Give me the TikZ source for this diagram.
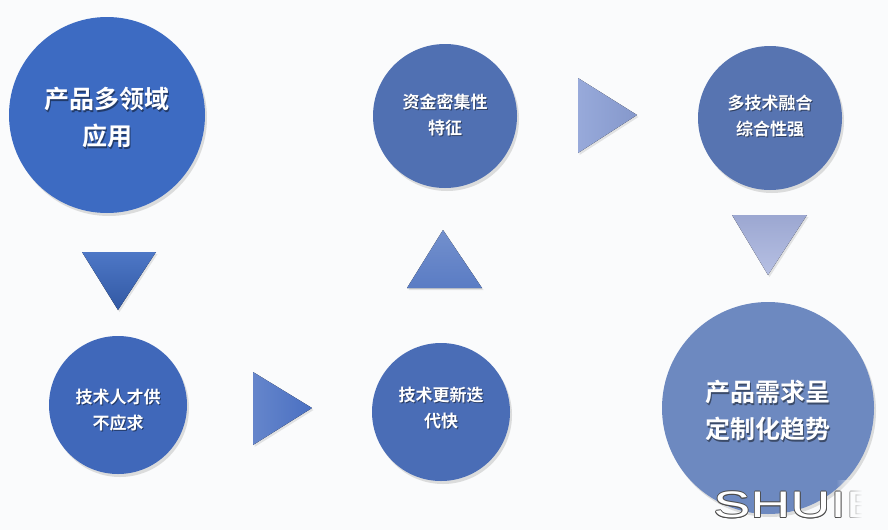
\documentclass[tikz,border=0pt]{standalone}
\usepackage{fontspec}
\newfontfamily\cjk{Noto Sans CJK SC Bold}
\newfontfamily\wmfont{Liberation Sans}
\usetikzlibrary{shadows,fadings}
\definecolor{bgc}{HTML}{FAFBFC}
\definecolor{cA}{HTML}{3D6BC2}
\definecolor{cB}{HTML}{4068BA}
\definecolor{cC}{HTML}{4A6DB6}
\definecolor{cD}{HTML}{5070B2}
\definecolor{cE}{HTML}{5774B1}
\definecolor{cF}{HTML}{6D89C0}
\definecolor{tA}{HTML}{3A68C0}
\definecolor{tB}{HTML}{4A70C2}
\definecolor{tC}{HTML}{5A7CC4}
\definecolor{tD}{HTML}{8CA0D6}
\definecolor{tE}{HTML}{A4B0DC}
\tikzset{
  bubble/.style={circle, inner sep=0pt, draw=none,
    drop shadow={opacity=0.25, shadow xshift=2pt, shadow yshift=-3pt}},
  tri/.style={draw=none, drop shadow={opacity=0.2, shadow xshift=1.5pt, shadow yshift=-2pt}},
  bigtxt/.style={text=white, align=center, font=\cjk\fontsize{25}{37}\selectfont},
  smalltxt/.style={text=white, align=center, font=\cjk\fontsize{17}{26}\selectfont},
  shtxt/.style={text=black, opacity=0.45},
  wm/.style={font=\wmfont\fontsize{37}{37}\selectfont, xscale=1.5, inner sep=0pt}
}
\begin{document}
\begin{tikzpicture}[x=1pt,y=-1pt]
\fill[bgc] (0,0) rectangle (888,530);
\useasboundingbox (0,0) rectangle (888,530);

% circles
\node[bubble, minimum size=196pt, fill=cA] (c1) at (107,115) {};
\node[bubble, minimum size=138pt, fill=cB] (c2) at (118,405) {};
\node[bubble, minimum size=138pt, fill=cC] (c3) at (441,412) {};
\node[bubble, minimum size=144pt, fill=cD] (c4) at (445,116) {};
\node[bubble, minimum size=144pt, fill=cE] (c5) at (770,118) {};
\node[bubble, minimum size=212pt, fill=cF] (c6) at (768,408) {};

% triangles
\fill[tri, top color=tA!90!white, bottom color=tA!85!black] (82,252) -- (156,252) -- (118,310) -- cycle;
\fill[tri, left color=tB!85!white, right color=tB] (253,372) -- (312,408) -- (253,445) -- cycle;
\fill[tri, top color=tC!85!white, bottom color=tC] (443,230) -- (482,288) -- (407,288) -- cycle;
\fill[tri, left color=tD!90!white, right color=tD!95!black] (578,78) -- (637,115) -- (578,153) -- cycle;
\fill[tri, top color=tE!95!black, bottom color=tE!80!white] (732,215) -- (807,215) -- (768,275) -- cycle;

% texts (shadow + white)
\node[bigtxt, shtxt] (s1) at ([shift={(1.2,1.5)}]107,118) {产品多领域\\应用};
\node[bigtxt] (t1) at (107,118) {产品多领域\\应用};
\node[smalltxt, shtxt] (s2) at ([shift={(1,1.2)}]118,410) {技术人才供\\不应求};
\node[smalltxt] (t2) at (118,410) {技术人才供\\不应求};
\node[smalltxt, shtxt] (s3) at ([shift={(1,1.2)}]441,408) {技术更新迭\\代快};
\node[smalltxt] (t3) at (441,408) {技术更新迭\\代快};
\node[smalltxt, shtxt] (s4) at ([shift={(1,1.2)}]445,115) {资金密集性\\特征};
\node[smalltxt] (t4) at (445,115) {资金密集性\\特征};
\node[smalltxt, shtxt] (s5) at ([shift={(1,1.2)}]770,116) {多技术融合\\综合性强};
\node[smalltxt] (t5) at (770,116) {多技术融合\\综合性强};
\node[bigtxt, shtxt] (s6) at ([shift={(1.2,1.5)}]768,411) {产品需求呈\\定制化趋势};
\node[bigtxt] (t6) at (768,411) {产品需求呈\\定制化趋势};

% watermark
\foreach \dx/\dy in {-0.8/0,0.8/0,0/-0.8,0/0.8,-0.6/-0.6,0.6/0.6,-0.6/0.6,0.6/-0.6}
  \node[wm, text=black!70, anchor=west] at (713+\dx,505+\dy) {SHUIB};
\node[wm, text=white, anchor=west] (wmk) at (713,505) {SHUIB};
\fill[bgc, path fading=west] (836,480) rectangle (862,530);
\fill[bgc] (862,480) rectangle (888,530);
\end{tikzpicture}
\end{document}
